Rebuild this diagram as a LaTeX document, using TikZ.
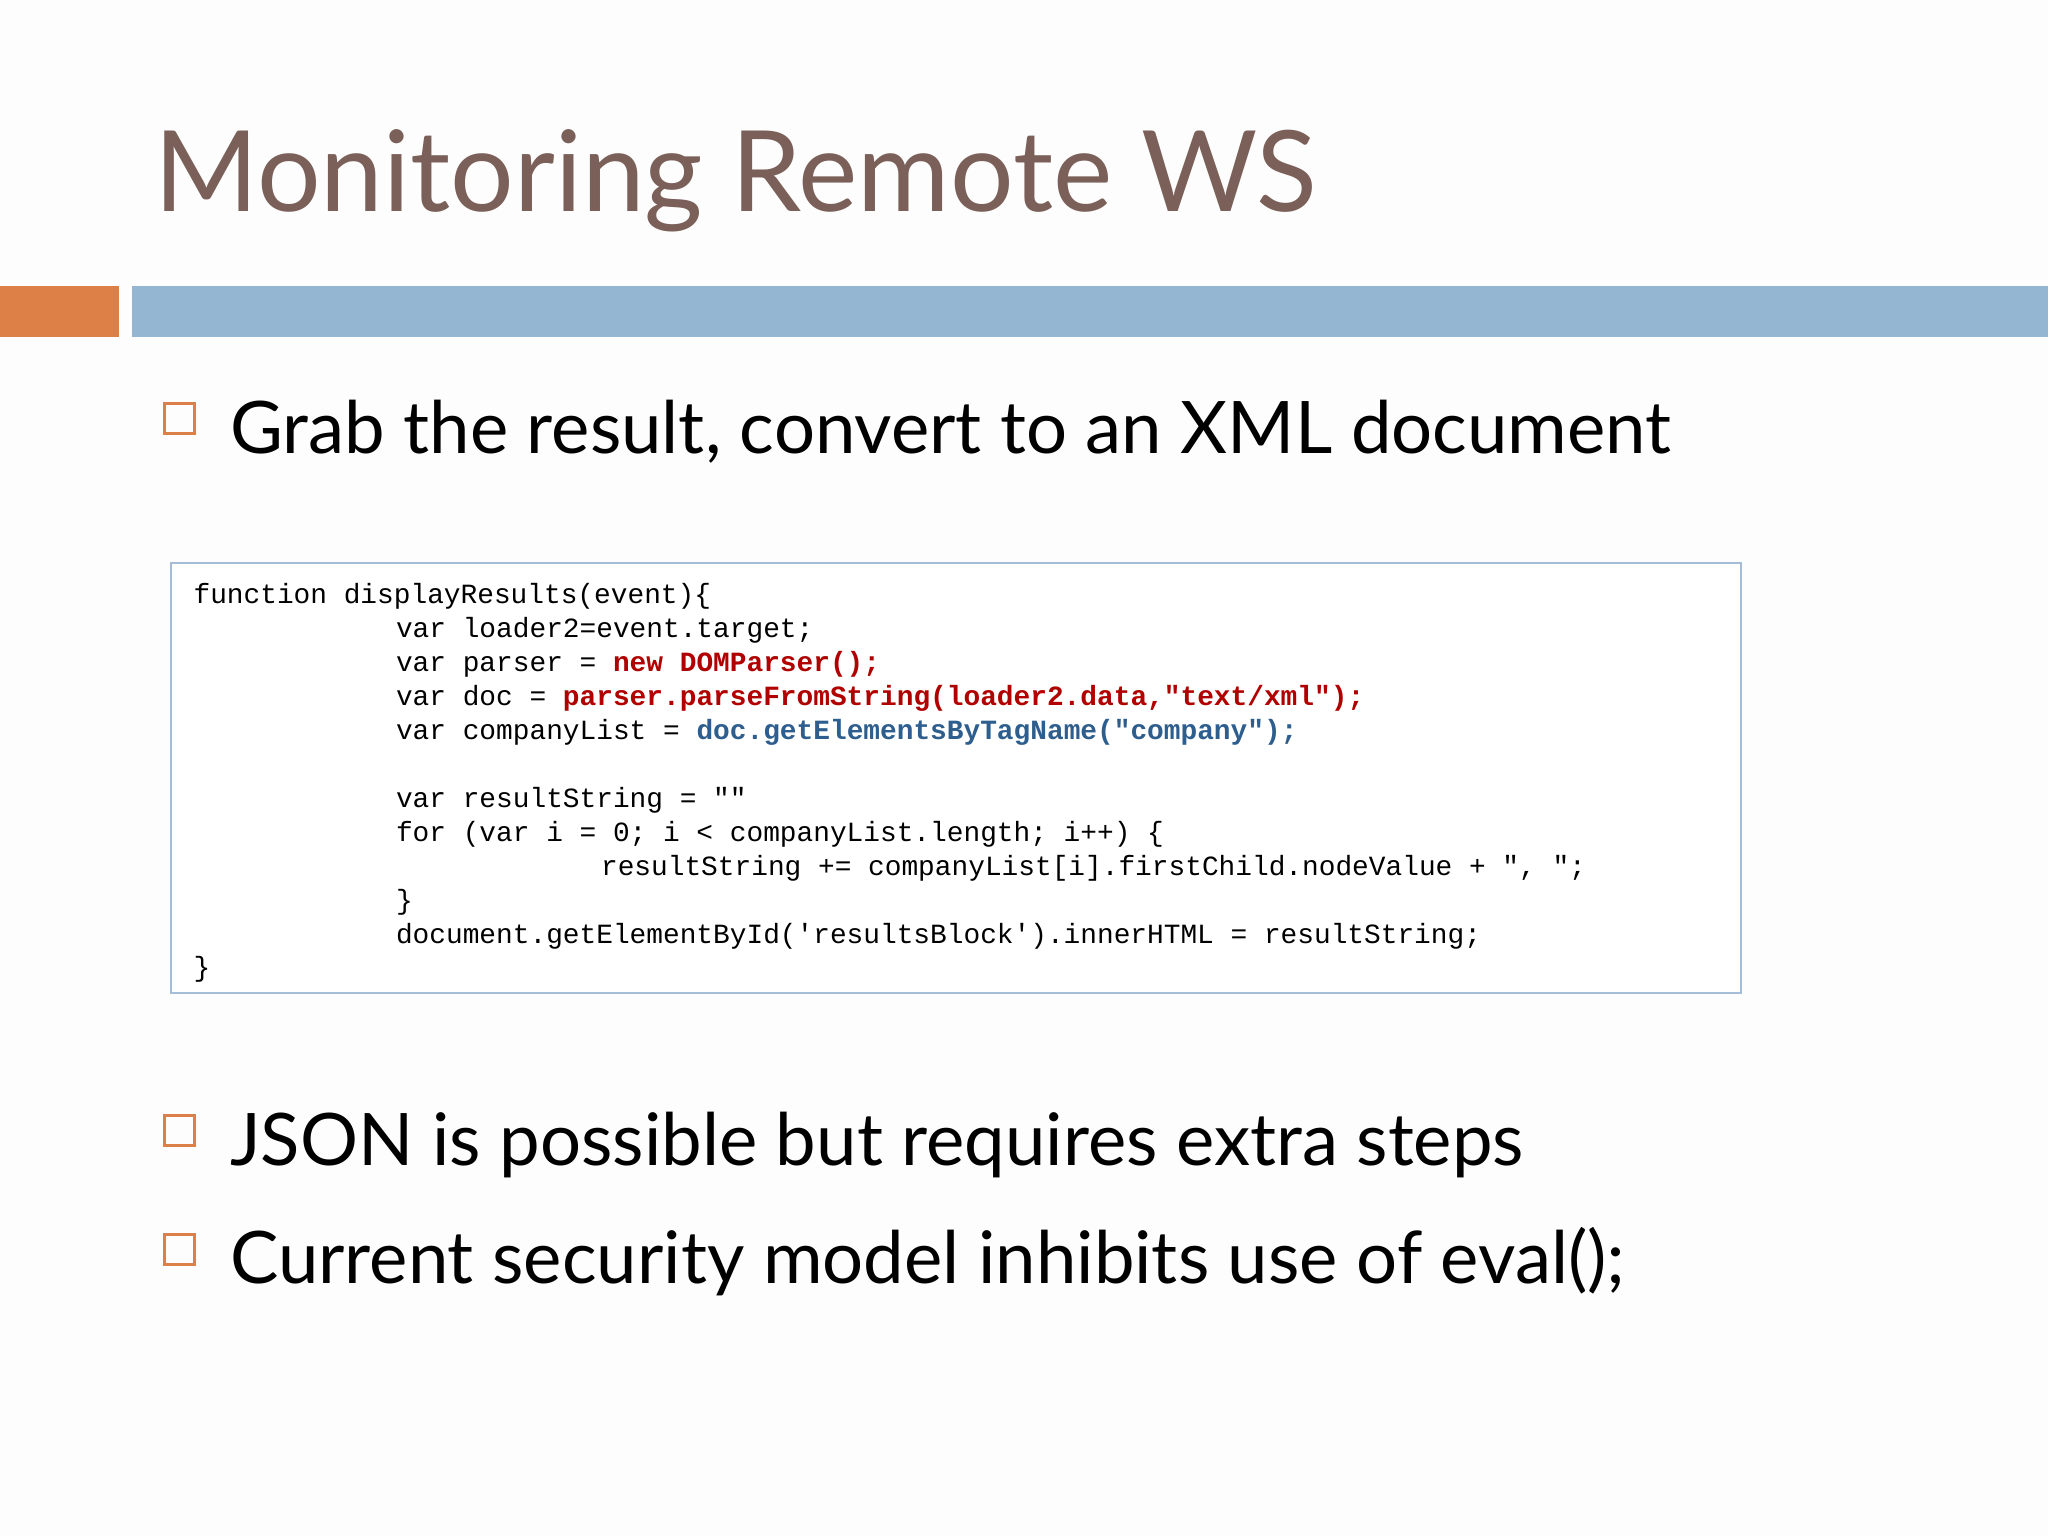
\documentclass[tikz,border=0pt]{standalone}
\usepackage{fontspec}
\setmainfont{Lato}
\newfontfamily\codefont{Liberation Mono}
\definecolor{bgc}{HTML}{FDFDFD}
\definecolor{titlec}{HTML}{7A6058}
\definecolor{orng}{HTML}{DD8047}
\definecolor{bluebar}{HTML}{94B6D2}
\definecolor{boxc}{HTML}{A5BDD6}
\definecolor{redc}{HTML}{B00000}
\definecolor{bluec}{HTML}{2E5E8E}
\begin{document}
\begin{tikzpicture}[x=1pt,y=-1pt,
  code/.style={anchor=base west,inner sep=0pt,font=\codefont\fontsize{21.3}{24}\selectfont},
  body/.style={anchor=base west,inner sep=0pt,font=\fontsize{55.5}{60}\selectfont},
  bul/.style={draw=orng,line width=2pt,fill=none}]
\fill[bgc] (0,0) rectangle (1568,1176);
\useasboundingbox (0,0) rectangle (1568,1176);
\node[anchor=base west,inner sep=0pt,text=titlec,font=\fontsize{86}{90}\selectfont] (title) at (118,162) {Monitoring Remote WS};
\fill[orng] (0,219) rectangle (91,258);
\fill[bluebar] (101,219) rectangle (1568,258);
\draw[bul] (126,309) rectangle (149,332);
\node[body] (b1) at (176,347) {Grab the result, convert to an XML document};
\draw[boxc,line width=1.5pt,fill=white] (131,431) rectangle (1333,760);
\node[code] (c1) at (148,462) {function displayResults(event)\{};
\node[code] (c2) at (303,488) {var loader2=event.target;};
\node[code] (c3) at (303,514) {var parser = \textcolor{redc}{\bfseries new DOMParser();}};
\node[code] (c4) at (303,540) {var doc = \textcolor{redc}{\bfseries parser.parseFromString(loader2.data,"text/xml");}};
\node[code] (c5) at (303,566) {var companyList = \textcolor{bluec}{\bfseries doc.getElementsByTagName("company");}};
\node[code] (c6) at (303,618) {var resultString = ""};
\node[code] (c7) at (303,644) {for (var i = 0; i < companyList.length; i++) \{};
\node[code] (c8) at (460,670) {resultString += companyList[i].firstChild.nodeValue + ", ";};
\node[code] (c9) at (303,696) {\}};
\node[code] (c10) at (303,722) {document.getElementById('resultsBlock').innerHTML = resultString;};
\node[code] (c11) at (148,748) {\}};
\draw[bul] (126,854) rectangle (149,877);
\node[body] (b2) at (176,892) {JSON is possible but requires extra steps};
\draw[bul] (126,945) rectangle (149,968);
\node[body] (b3) at (176,983) {Current security model inhibits use of eval();};
\end{tikzpicture}
\end{document}
